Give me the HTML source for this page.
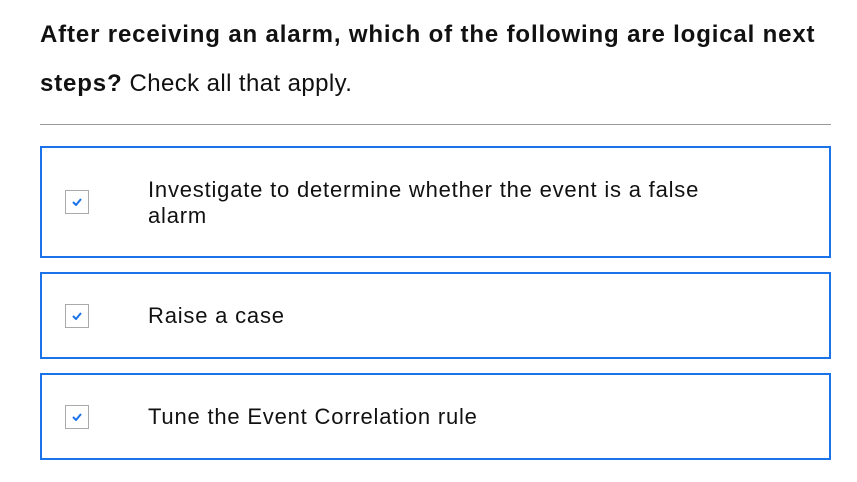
<!DOCTYPE html>
<html><head><style>
body{margin:0;width:857px;height:482px;background:#fff;font-family:"Liberation Sans",sans-serif;color:#111;position:relative;overflow:hidden}
.q{position:absolute;left:40px;top:10px;width:800px;font-size:24px;line-height:49px;letter-spacing:0.85px}
.q span{letter-spacing:0.4px}
.hr{position:absolute;left:40px;top:124px;width:791px;height:1px;background:#999}
.box{position:absolute;left:40px;width:787px;border:2px solid #1a73e8}
.cb{position:absolute;left:23px;width:24px;height:24px;border:1px solid #aaa;box-sizing:border-box}
.cb svg{position:absolute;left:6px;top:7px}
.t{position:absolute;left:106px;font-size:22px;line-height:26px;width:580px;letter-spacing:0.8px}
</style></head><body>
<div class="q"><b>After receiving an alarm, which of the following are logical next steps?</b><span> Check all that apply.</span></div>
<div class="hr"></div>
<div class="box" style="top:146px;height:108px">
 <div class="cb" style="top:42px"><svg width="10" height="8"><path d="M1 4 L4 7 L9 1" stroke="#1a73e8" stroke-width="2" fill="none"/></svg></div>
 <div class="t" style="top:29px">Investigate to determine whether the event is a false alarm</div>
</div>
<div class="box" style="top:272px;height:83px">
 <div class="cb" style="top:30px"><svg width="10" height="8"><path d="M1 4 L4 7 L9 1" stroke="#1a73e8" stroke-width="2" fill="none"/></svg></div>
 <div class="t" style="top:29px">Raise a case</div>
</div>
<div class="box" style="top:373px;height:83px">
 <div class="cb" style="top:30px"><svg width="10" height="8"><path d="M1 4 L4 7 L9 1" stroke="#1a73e8" stroke-width="2" fill="none"/></svg></div>
 <div class="t" style="top:29px">Tune the Event Correlation rule</div>
</div>
</body></html>
